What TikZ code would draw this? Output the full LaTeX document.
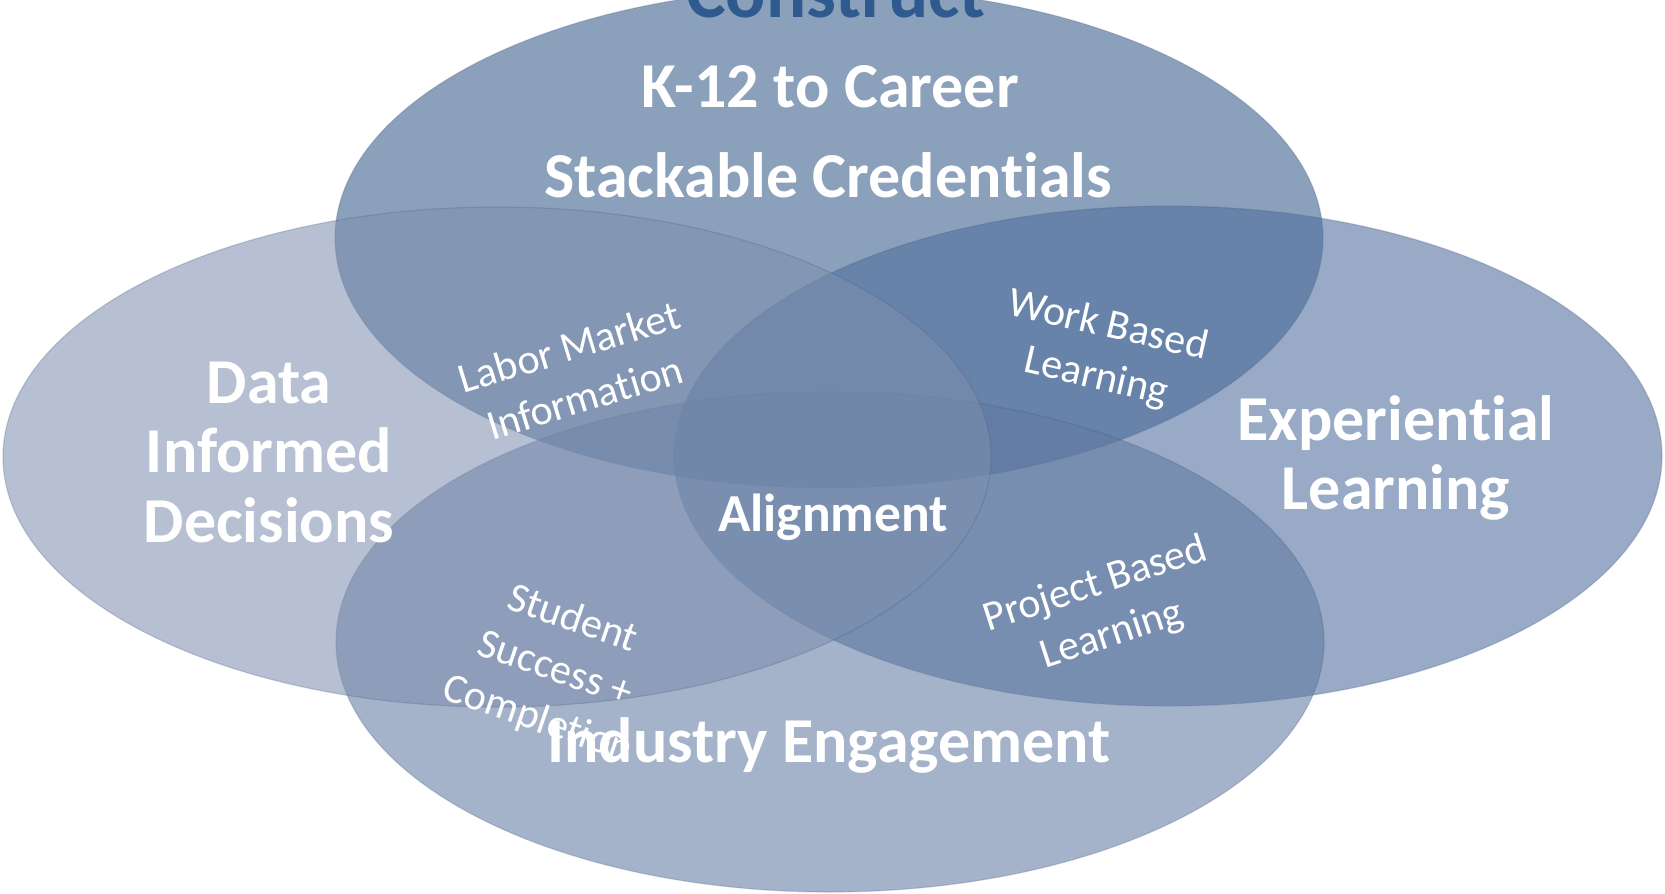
\documentclass[tikz,border=0pt]{standalone}
\usepackage{fontspec}
\setmainfont{Carlito}[Ligatures=NoCommon]
\usepackage{tikz}

\definecolor{leftblue}{RGB}{125,143,175}
\definecolor{topblue}{RGB}{110,138,171}
\definecolor{rightblue}{RGB}{78,110,157}
\definecolor{bottomblue}{RGB}{96,121,162}
\definecolor{rimblue}{RGB}{70,90,130}
\definecolor{titleblue}{RGB}{47,90,143}

\begin{document}
\begin{tikzpicture}[x=1pt,y=-1pt]
\tikzstyle{every node}+=[inner sep=0pt]
\tikzstyle{rim}=[draw=rimblue,draw opacity=0.25,line width=1.2pt]
\tikzstyle{mainlbl}=[text=white,font=\bfseries\fontsize{64}{69.5}\selectfont,align=center]
\tikzstyle{sublbl}=[text=white,font=\fontsize{42}{53}\selectfont,align=center]
\useasboundingbox (0,0) rectangle (1665,894);
\fill [white] (0,0) rectangle (1665,894);
% the four sets
\draw [rim,fill=topblue,fill opacity=0.8] (829,238) ellipse (494pt and 250pt);
\draw [rim,fill=rightblue,fill opacity=0.58] (1168,456) ellipse (494pt and 250pt);
\draw [rim,fill=bottomblue,fill opacity=0.56] (830,642) ellipse (494pt and 250pt);
\draw [rim,fill=leftblue,fill opacity=0.56] (497,457) ellipse (494pt and 250pt);
% set names
\draw (836,17) node (construct) [anchor=base,text=titleblue,font=\bfseries\fontsize{75}{80}\selectfont] {Construct};
\draw (830,107) node (career) [mainlbl,anchor=base] {K-12 to Career};
\draw (828,197) node (stack) [mainlbl,anchor=base] {Stackable Credentials};
\draw (269,452) node (data) [mainlbl] {Data\\Informed\\Decisions};
\draw (1396,458) node (exper) [mainlbl] {Experiential\\Learning};
\draw (829,762) node (industry) [mainlbl,anchor=base] {Industry Engagement};
\draw (833,531) node (align) [mainlbl,anchor=base,font=\bfseries\fontsize{53.5}{60}\selectfont] {Alignment};
% overlaps
\draw (577,372) node (labor) [sublbl,rotate=17] {Labor Market\\Information};
\draw (1102,352) node (work) [sublbl,rotate=-13] {Work Based\\Learning};
\draw (1104,610) node (project) [sublbl,rotate=18] {Project Based\\Learning};
\draw (555,670) node (student) [sublbl,rotate=-19] {Student\\Success +\\Completion};
\end{tikzpicture}
\end{document}
